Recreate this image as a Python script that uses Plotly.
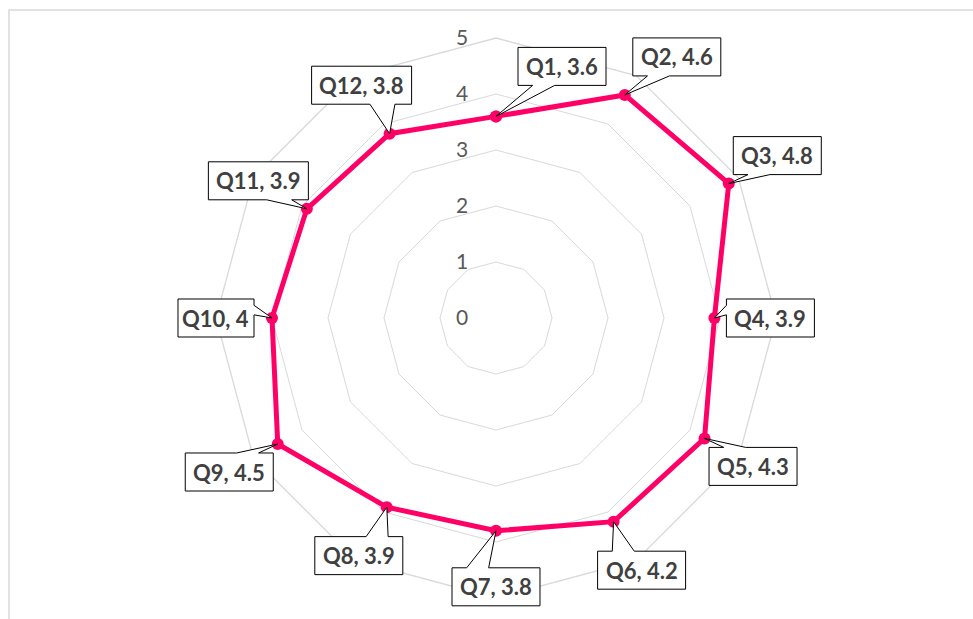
import math
import plotly.graph_objects as go

# Survey scores per question
questions = ["Q1", "Q2", "Q3", "Q4", "Q5", "Q6", "Q7", "Q8", "Q9", "Q10", "Q11", "Q12"]
scores = [3.6, 4.6, 4.8, 3.9, 4.3, 4.2, 3.8, 3.9, 4.5, 4, 3.9, 3.8]
radial_ticks = [0, 1, 2, 3, 4, 5]

R_MAX = 5
LINE_COLOR = "#FF0066"
GRID_COLOR = "#D9D9D9"
W, H = 973, 619
M = dict(l=216, r=197, t=38, b=21)
SPAN_PX = H - M["t"] - M["b"]  # polar area is a square of this size

fig = go.Figure()
fig.add_trace(go.Scatterpolar(
    r=scores + scores[:1],
    theta=questions + questions[:1],
    mode="lines+markers",
    line=dict(color=LINE_COLOR, width=5),
    marker=dict(color=LINE_COLOR, size=12),
    hoverinfo="skip",
    showlegend=False,
))


def callout_path(ox, oy, bx, by, w, h):
    """Outline of a box centred at pixel offset (bx, by) from the anchor point,
    with a wedge pointing back to the anchor. Returns an SVG path in paper units."""
    left, right, top, bottom = bx - w / 2, bx + w / 2, by - h / 2, by + h / 2
    if bottom < 0:
        edge = "bottom"
    elif top > 0:
        edge = "top"
    elif left > 0:
        edge = "left"
    else:
        edge = "right"
    if edge in ("top", "bottom"):
        if bx >= 0:
            b1, b2 = left + w / 6, left + 5 * w / 12
        else:
            b1, b2 = right - 5 * w / 12, right - w / 6
    else:
        b1, b2 = top + h / 6, top + 5 * h / 12

    pts = [(left, top)]
    if edge == "top":
        pts += [(b1, top), (0, 0), (b2, top)]
    pts.append((right, top))
    if edge == "right":
        pts += [(right, b1), (0, 0), (right, b2)]
    pts.append((right, bottom))
    if edge == "bottom":
        pts += [(b2, bottom), (0, 0), (b1, bottom)]
    pts.append((left, bottom))
    if edge == "left":
        pts += [(left, b2), (0, 0), (left, b1)]

    coords = [(ox + px / SPAN_PX, oy - py / SPAN_PX) for px, py in pts]
    return "M " + " L ".join(f"{x:.5f},{y:.5f}" for x, y in coords) + " Z"


# Callout labels: placed radially outside each point, two of them nudged by hand
manual_offsets = {"Q1": (66, -50), "Q2": (52, -38)}
BOX_H = 38
annotations, shapes = [], []
n = len(questions)
for i, (q, v) in enumerate(zip(questions, scores)):
    ang = 2 * math.pi * i / n
    s, c = math.sin(ang), math.cos(ang)
    px = 0.5 + 0.5 * (v / R_MAX) * s
    py = 0.5 + 0.5 * (v / R_MAX) * c
    bx, by = manual_offsets.get(q, (56 * s, -56 * c))
    text = f"{q}, {v:g}"
    box_w = 12 * len(text) + 4
    shapes.append(dict(
        type="path", xref="paper", yref="paper",
        path=callout_path(px, py, bx, by, box_w, BOX_H),
        fillcolor="#FFFFFF", line=dict(color="#000000", width=1), layer="above",
    ))
    annotations.append(dict(
        x=px + bx / SPAN_PX, y=py - by / SPAN_PX, xref="paper", yref="paper",
        xanchor="center", yanchor="middle",
        text=f"<b>{text}</b>", showarrow=False,
        font=dict(family="Lato", size=22, color="#404040"),
    ))

# Chart-area frame (only its top and left edges fall inside the canvas)
shapes.append(dict(
    type="rect", xref="paper", yref="paper",
    x0=(9 - M["l"]) / SPAN_PX, x1=(1000 - M["l"]) / SPAN_PX,
    y0=-(700 - (H - M["b"])) / SPAN_PX, y1=1 + (M["t"] - 10) / SPAN_PX,
    line=dict(color=GRID_COLOR, width=1.5), fillcolor="rgba(0,0,0,0)", layer="below",
))

fig.update_layout(
    width=W, height=H,
    margin=M,
    paper_bgcolor="#FFFFFF",
    plot_bgcolor="#FFFFFF",
    polar=dict(
        bgcolor="#FFFFFF",
        gridshape="linear",
        domain=dict(x=[0, 1], y=[0, 1]),
        radialaxis=dict(
            range=[0, R_MAX],
            tickvals=radial_ticks,
            ticktext=[str(t) for t in radial_ticks],
            angle=90, tickangle=90, side="counterclockwise",
            showline=False, showgrid=True, gridcolor=GRID_COLOR, gridwidth=1.3,
            ticks="outside", ticklen=20, tickcolor="rgba(0,0,0,0)",
            tickfont=dict(family="Lato", size=21, color="#595959"),
        ),
        angularaxis=dict(
            type="category",
            categoryarray=questions,
            direction="clockwise", rotation=90,
            showticklabels=False, ticks="",
            showgrid=False,
            showline=True, linecolor=GRID_COLOR, linewidth=1.3,
        ),
    ),
    annotations=annotations,
    shapes=shapes,
)

fig.write_html("out.html")
